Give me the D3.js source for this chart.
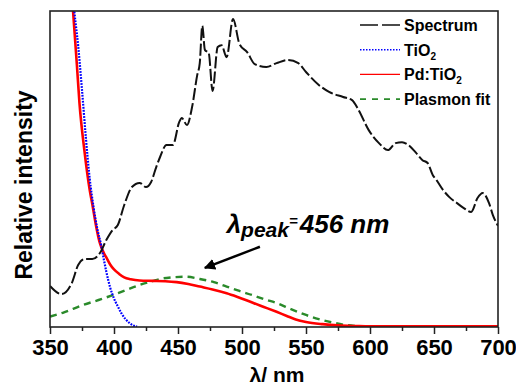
<!DOCTYPE html>
<html>
<head>
<meta charset="utf-8">
<script src="https://cdn.jsdelivr.net/npm/d3@7"></script>
<style>
  body { margin: 0; background: #fff; }
  svg { display: block; font-family: "Liberation Sans", Arial, sans-serif; }
</style>
</head>
<body>
<svg id="chart" width="516" height="388"></svg>
<script>
// wavelength (nm) / relative intensity
var spectrumX = [350, 359, 367, 372, 377, 383, 389, 394, 399, 403, 408, 414, 420, 425, 429, 433, 436, 441, 446, 451, 453, 457, 461, 465, 467, 469, 471, 474, 477, 481, 484, 488, 493, 498, 504, 510, 519, 527, 536, 544, 550, 560, 568, 579, 586, 591, 599, 607, 614, 620, 625, 630, 636, 641, 645, 649, 652, 657, 662, 668, 673, 679, 684, 688, 693, 696, 700];
var spectrumY = [13.0, 10.4, 13.9, 19.6, 21.5, 21.5, 23.4, 27.5, 30.7, 32.3, 38.6, 44.3, 45.6, 44.3, 45.9, 50.6, 53.8, 57.6, 57.6, 64.9, 66.1, 63.9, 69.6, 79.7, 83.5, 95.3, 87.7, 86.7, 74.7, 88.6, 89.2, 85.4, 97.5, 89.6, 87.0, 83.2, 82.3, 83.5, 84.5, 83.5, 80.7, 76.6, 74.4, 72.8, 71.8, 68.7, 62.3, 58.2, 56.0, 58.2, 58.5, 57.6, 55.1, 52.8, 51.9, 48.1, 46.5, 43.4, 41.1, 39.2, 37.7, 36.4, 40.8, 42.4, 39.2, 35.4, 32.0];

var tio2X = [366, 369, 372, 375, 378, 381, 384, 387, 390, 392, 394, 397, 400, 403, 406, 409, 412, 415, 418];
var tio2Y = [115, 100, 89, 75, 60, 47, 38, 31, 25.8, 21.5, 17.5, 12.5, 9, 6.5, 4.2, 2.5, 1.3, 0.5, 0.1];

var pdX = [365, 368, 371, 373, 377, 381, 383, 386, 389, 392, 394, 397, 400, 404, 408, 413, 420, 430, 440, 449, 458, 467, 477, 488, 496, 504, 514, 520, 527, 535, 542, 550, 563, 575, 589, 600, 620, 650, 700];
var pdY = [115, 100, 83, 71, 55.4, 43.4, 39, 32, 26.5, 23.5, 22, 19.8, 18.2, 16.8, 15.7, 15.1, 14.7, 14.6, 14.5, 14.2, 13.6, 12.8, 11.9, 10.7, 9.6, 8.4, 6.8, 5.9, 4.8, 3.5, 2.4, 1.6, 0.9, 0.5, 0.3, 0.2, 0.2, 0.2, 0.2];

var fitX = [350, 360, 376, 390, 399, 410, 420, 430, 436, 445, 456, 467, 478, 488, 498, 508, 518, 527, 538, 550, 560, 571, 580, 589, 600, 650, 700];
var fitY = [3.3, 4.5, 7, 8.8, 10.1, 11.8, 13.3, 14.5, 15.2, 15.7, 15.9, 15.2, 14.2, 12.8, 11.4, 10.1, 8.7, 7.6, 5.7, 3.8, 2.5, 1.4, 0.7, 0.3, 0.1, 0.1, 0.1];

var xTicks = [350, 400, 450, 500, 550, 600, 650, 700];
var xMinor = [375, 425, 475, 525, 575, 625, 675];
var legendLabels = ["Spectrum", "TiO", "Pd:TiO", "Plasmon fit"];

(function () {
var svg = d3.select("#chart");
var pl = 50, pr = 498, pt = 11, pb = 327;

var x = d3.scaleLinear().domain([350, 700]).range([pl, pr]);
var y = d3.scaleLinear().domain([0, 100]).range([pb, pt]);

var defs = svg.append("defs");
defs.append("clipPath").attr("id", "plot")
  .append("rect").attr("x", pl).attr("y", pt)
  .attr("width", pr - pl).attr("height", pb - pt);

function pts(xs, ys) {
  return xs.map(function (d, i) { return [d, ys[i]]; });
}

var line = d3.line()
  .x(function (d) { return x(d[0]); })
  .y(function (d) { return y(d[1]); })
  .curve(d3.curveMonotoneX);

var g = svg.append("g").attr("clip-path", "url(#plot)");

g.append("path").datum(pts(fitX, fitY)).attr("d", line)
  .attr("fill", "none").attr("stroke", "#2a8a2a").attr("stroke-width", 2.4)
  .attr("stroke-dasharray", "7,5");

g.append("path").datum(pts(pdX, pdY)).attr("d", line)
  .attr("fill", "none").attr("stroke", "#ff0000").attr("stroke-width", 2.6);

g.append("path").datum(pts(tio2X, tio2Y)).attr("d", line)
  .attr("fill", "none").attr("stroke", "#0000ff").attr("stroke-width", 2.2)
  .attr("stroke-dasharray", "1.8,1.2");

g.append("path").datum(pts(spectrumX, spectrumY)).attr("d", line)
  .attr("fill", "none").attr("stroke", "#111").attr("stroke-width", 2)
  .attr("stroke-dasharray", "12,3");

// frame
svg.append("rect").attr("x", pl).attr("y", pt)
  .attr("width", pr - pl).attr("height", pb - pt)
  .attr("fill", "none").attr("stroke", "#222").attr("stroke-width", 1.6);

// x axis
var xAxis = d3.axisBottom(x).tickValues(xTicks).tickSize(7).tickPadding(5);
var ax = svg.append("g").attr("transform", "translate(0," + pb + ")").call(xAxis);
ax.select(".domain").remove();
ax.selectAll(".tick line").attr("stroke", "#222").attr("stroke-width", 1.5);
ax.selectAll(".tick text").attr("font-size", 22).attr("font-weight", "bold")
  .attr("font-family", "Liberation Sans, Arial, sans-serif").attr("fill", "#000");

var minor = d3.axisBottom(x).tickValues(xMinor).tickSize(4).tickFormat("");
var mx = svg.append("g").attr("transform", "translate(0," + pb + ")").call(minor);
mx.select(".domain").remove();
mx.selectAll(".tick line").attr("stroke", "#222").attr("stroke-width", 1.5);

// axis titles
svg.append("text").attr("x", 277).attr("y", 382)
  .attr("text-anchor", "middle").attr("font-size", 21).attr("font-weight", "bold")
  .text("λ/ nm");

svg.append("text").attr("transform", "translate(32,185) rotate(-90)")
  .attr("text-anchor", "middle").attr("font-size", 23).attr("font-weight", "bold")
  .text("Relative intensity");

// legend
var legendStyles = [
  { color: "#111", dash: "18,4", width: 1.6 },
  { color: "#0000ff", dash: "1.5,1.5", width: 1.6 },
  { color: "#ff0000", dash: null, width: 1.4 },
  { color: "#2a8a2a", dash: "6,6", width: 1.8 }
];
var lg = svg.append("g");
legendLabels.forEach(function (name, i) {
  var cy = 25 + i * 24.7;
  var s = legendStyles[i];
  lg.append("line").attr("x1", 360).attr("x2", 400).attr("y1", cy).attr("y2", cy)
    .attr("stroke", s.color).attr("stroke-width", s.width)
    .attr("stroke-dasharray", s.dash);
  var t = lg.append("text").attr("x", 404).attr("y", cy + 6)
    .attr("font-size", 16).attr("font-weight", "bold").text(name);
  if (i === 1 || i === 2) {
    t.append("tspan").attr("font-size", 10).attr("dy", 4).text("2");
  }
});

// peak annotation
var ann = svg.append("text").attr("x", x(488)).attr("y", y(29.7))
  .attr("font-size", 26).attr("font-weight", "bold").attr("font-style", "italic");
ann.append("tspan").text("λ");
ann.append("tspan").attr("font-size", 21).attr("dy", 4).text("peak");
ann.append("tspan").attr("font-size", 15).attr("dy", -11).text("=");
ann.append("tspan").attr("dy", 7).attr("dx", 2).text("456 nm");

defs.append("marker").attr("id", "head")
  .attr("viewBox", "0 0 10 10").attr("refX", 9).attr("refY", 5)
  .attr("markerWidth", 4.5).attr("markerHeight", 4.5).attr("orient", "auto")
  .append("path").attr("d", "M0,0 L10,5 L0,10 z").attr("fill", "#000");

svg.append("line").attr("x1", x(514)).attr("y1", y(25.4))
  .attr("x2", x(471)).attr("y2", y(18.7))
  .attr("stroke", "#000").attr("stroke-width", 2.5)
  .attr("marker-end", "url(#head)");
})();
</script>
</body>
</html>
